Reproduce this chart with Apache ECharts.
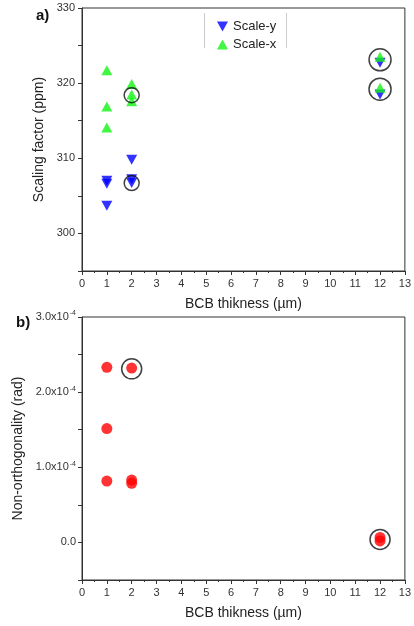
<!DOCTYPE html>
<html>
<head>
<meta charset="utf-8">
<script src="https://cdn.jsdelivr.net/npm/echarts@6/dist/echarts.min.js"></script>
<style>
  html, body { margin: 0; padding: 0; background: #fff; }
  #main { width: 414px; height: 626px; }
</style>
</head>
<body>
<div id="main"></div>
<script>
// panel a) scaling factor (ppm) vs BCB thickness (um)
var scaleX = [[1, 321.7], [1, 316.9], [1, 314.1], [2, 319.9], [2, 318.5], [2, 317.6], [12, 323.5], [12, 319.4]];
var scaleY = [[1, 307.0], [1, 306.6], [1, 303.7], [2, 309.8], [2, 307.2], [2, 306.7], [12, 322.7], [12, 318.5]];
var circledA = [[2, 318.4], [2, 306.7], [12, 323.1], [12, 319.2]];

// panel b) non-orthogonality, in units of 1e-4 rad
var nonOrtho = [[1, 2.33], [1, 1.515], [1, 0.817], [2, 2.32], [2, 0.83], [2, 0.787], [12, 0.067], [12, 0.02]];
var circledB = [[2, 2.31], [12, 0.04]];

var xTicks = [0, 1, 2, 3, 4, 5, 6, 7, 8, 9, 10, 11, 12, 13];

var downTri = 'path://M0,0 L10,0 L5,9 Z';
var font = 'Liberation Sans, Arial, sans-serif';

var chart = echarts.init(document.getElementById('main'));

function xAxisCfg(gridIndex) {
  return {
    gridIndex: gridIndex,
    type: 'value',
    min: xTicks[0],
    max: xTicks[xTicks.length - 1],
    interval: 1,
    name: 'BCB thikness (µm)',
    nameLocation: 'middle',
    nameGap: 26,
    nameTextStyle: { fontFamily: font, fontSize: 14, color: '#222' },
    axisLine: { onZero: false, lineStyle: { color: '#333', width: 1 } },
    axisTick: { length: 4, lineStyle: { color: '#333' } },
    minorTick: { show: true, splitNumber: 2, length: 2, lineStyle: { color: '#333' } },
    axisLabel: { fontFamily: font, fontSize: 11, color: '#333', margin: 7 },
    splitLine: { show: false }
  };
}

var option = {
  animation: false,
  backgroundColor: '#fff',
  title: [
    { text: 'a)', left: 31, top: 3, textStyle: { fontFamily: font, fontSize: 15, fontWeight: 'bold', color: '#111' } },
    { text: 'b)', left: 11, top: 310, textStyle: { fontFamily: font, fontSize: 15, fontWeight: 'bold', color: '#111' } }
  ],
  legend: {
    data: ['Scale-y', 'Scale-x'],
    orient: 'vertical',
    left: 212,
    top: 15,
    itemWidth: 11,
    itemHeight: 10,
    itemGap: 5,
    textStyle: { fontFamily: font, fontSize: 13, color: '#222' }
  },
  graphic: [
    { type: 'line', shape: { x1: 204.5, y1: 13, x2: 204.5, y2: 48 }, style: { stroke: '#ccc', lineWidth: 1 } },
    { type: 'line', shape: { x1: 286.5, y1: 13, x2: 286.5, y2: 48 }, style: { stroke: '#ccc', lineWidth: 1 } }
  ],
  grid: [
    { left: 82, right: 6, top: 8, height: 263, show: true, borderColor: '#333', borderWidth: 1, backgroundColor: 'transparent' },
    { left: 82, right: 6, top: 317, height: 263, show: true, borderColor: '#333', borderWidth: 1, backgroundColor: 'transparent' }
  ],
  xAxis: [xAxisCfg(0), xAxisCfg(1)],
  yAxis: [
    {
      gridIndex: 0,
      type: 'value',
      min: 295,
      max: 330,
      interval: 5,
      name: 'Scaling factor (ppm)',
      nameLocation: 'middle',
      nameGap: 28,
      nameTextStyle: { fontFamily: font, fontSize: 14, color: '#222' },
      axisLine: { show: true, onZero: false, lineStyle: { color: '#333' } },
      axisTick: { length: 4, lineStyle: { color: '#333' } },
      axisLabel: {
        fontFamily: font, fontSize: 11, color: '#333', margin: 7,
        formatter: function (v) { return v % 10 === 0 ? String(v) : ''; }
      },
      splitLine: { show: false }
    },
    {
      gridIndex: 1,
      type: 'value',
      min: -0.5,
      max: 3.0,
      interval: 0.5,
      name: 'Non-orthogonality (rad)',
      nameLocation: 'middle',
      nameGap: 51,
      nameTextStyle: { fontFamily: font, fontSize: 14, color: '#222' },
      axisLine: { show: true, onZero: false, lineStyle: { color: '#333' } },
      axisTick: { length: 4, lineStyle: { color: '#333' } },
      axisLabel: {
        fontFamily: font, fontSize: 11, color: '#333', margin: 6,
        formatter: function (v) {
          if (Math.abs(v - Math.round(v)) > 1e-6 || v < 0) return '';
          if (v === 0) return '0.0';
          return v.toFixed(1) + 'x10{sup|-4}';
        },
        rich: { sup: { fontFamily: font, fontSize: 7, color: '#333', verticalAlign: 'top', padding: [0, 0, 7, 1] } }
      },
      splitLine: { show: false }
    }
  ],
  series: [
    {
      name: 'Scale-y', type: 'scatter', xAxisIndex: 0, yAxisIndex: 0,
      symbol: downTri, symbolSize: [11, 10],
      itemStyle: { color: '#0000ff' },
      data: scaleY, z: 3
    },
    {
      name: 'Scale-x', type: 'scatter', xAxisIndex: 0, yAxisIndex: 0,
      symbol: 'triangle', symbolSize: [11, 10],
      itemStyle: { color: '#11f511' },
      data: scaleX, z: 4
    },
    {
      name: 'circledA', type: 'scatter', xAxisIndex: 0, yAxisIndex: 0,
      symbol: 'circle',
      symbolSize: function (d) { return d[0] === 12 ? 22 : 15; },
      itemStyle: { color: 'transparent', borderColor: '#111', borderWidth: 1.5 },
      data: circledA, z: 5
    },
    {
      name: 'Non-orthogonality', type: 'scatter', xAxisIndex: 1, yAxisIndex: 1,
      symbol: 'circle', symbolSize: 11,
      itemStyle: { color: '#ff0000' },
      data: nonOrtho, z: 3
    },
    {
      name: 'circledB', type: 'scatter', xAxisIndex: 1, yAxisIndex: 1,
      symbol: 'circle', symbolSize: 20,
      itemStyle: { color: 'transparent', borderColor: '#111', borderWidth: 1.5 },
      data: circledB, z: 5
    }
  ]
};

chart.setOption(option);
</script>
</body>
</html>
